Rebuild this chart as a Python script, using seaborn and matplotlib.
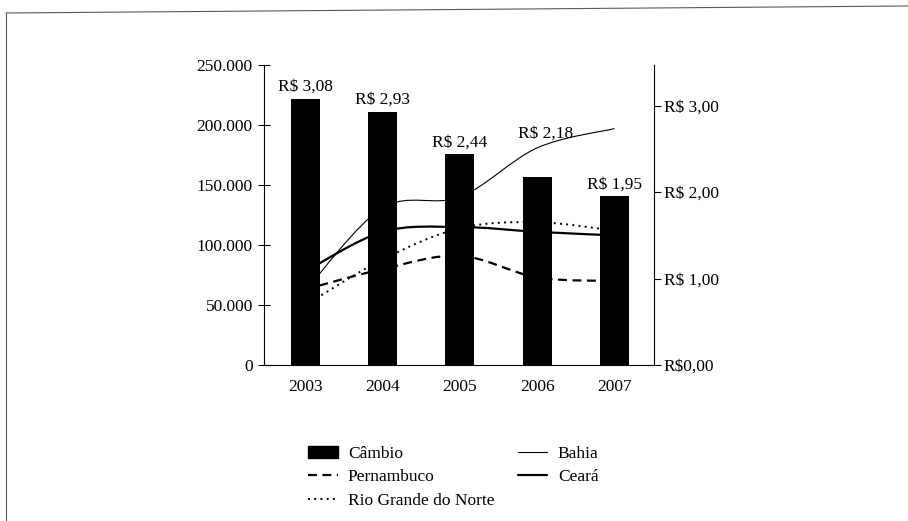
import numpy as np
import matplotlib
matplotlib.use("Agg")
import matplotlib.pyplot as plt
from matplotlib.path import Path
from matplotlib.patches import PathPatch, Patch
from matplotlib.lines import Line2D
from matplotlib.ticker import FuncFormatter, FixedLocator
import seaborn as sns

# Dados
anos = ["2003", "2004", "2005", "2006", "2007"]
cambio = [3.08, 2.93, 2.44, 2.18, 1.95]          # R$ por US$
bahia = [62000, 131000, 140000, 181000, 197000]
ceara = [78000, 111000, 115000, 111000, 108000]
pernambuco = [63000, 80000, 91000, 73000, 70000]
rio_grande_norte = [50000, 88000, 114000, 119000, 112000]

sns.set_style("white")
plt.rcParams["font.family"] = ["Liberation Serif", "DejaVu Serif"]
plt.rcParams["font.size"] = 12.5
plt.rcParams["axes.edgecolor"] = "black"
plt.rcParams["xtick.color"] = "black"
plt.rcParams["ytick.color"] = "black"
plt.rcParams["text.color"] = "black"

FS = 12.5

fig = plt.figure(figsize=(9.08, 5.21), dpi=100)
ax = fig.add_axes([0.2907, 0.2994, 0.4295, 0.5758])
ax2 = ax.twinx()


def suave(xs, ys):
    """Curva suavizada (Catmull-Rom em Bézier cúbica) pelos pontos."""
    pts = np.column_stack([xs, ys]).astype(float)
    n = len(pts)
    verts = [pts[0]]
    codes = [Path.MOVETO]
    for i in range(n - 1):
        p0 = pts[i - 1] if i > 0 else pts[i]
        p1, p2 = pts[i], pts[i + 1]
        p3 = pts[i + 2] if i + 2 < n else pts[i + 1]
        verts += [p1 + (p2 - p0) / 6, p2 - (p3 - p1) / 6, p2]
        codes += [Path.CURVE4] * 3
    return Path(verts, codes)


x = np.arange(len(anos))
estilos = {
    "Bahia": (bahia, dict(lw=0.8, linestyle="-")),
    "Ceará": (ceara, dict(lw=1.6, linestyle="-")),
    "Pernambuco": (pernambuco, dict(lw=1.6, linestyle=(0, (4, 2.5)))),
    "Rio Grande do Norte": (rio_grande_norte, dict(lw=1.4, linestyle=(0, (1, 2.2)))),
}
for nome, (serie, st) in estilos.items():
    ax.add_patch(PathPatch(suave(x, serie), fill=False, edgecolor="black",
                           capstyle="butt", **st))

# Barras do câmbio (eixo direito, desenhadas sobre as linhas)
sns.barplot(x=anos, y=cambio, ax=ax2, color="black", saturation=1,
            width=0.375, linewidth=0)

for i, v in enumerate(cambio):
    dx, dy = (6, 28) if anos[i] == "2006" else (0, 5.5)
    ax2.annotate(f"R\\$ {v:.2f}".replace(".", ","), (i, v),
                 xytext=(dx, dy), textcoords="offset points",
                 ha="center", va="baseline", fontsize=FS)

# Eixo x
ax.set_xlim(-0.537, 4.511)
ax2.set_xlim(-0.537, 4.511)
ax.set_xticks(x)
ax.set_xticklabels(anos)
ax.xaxis.set_minor_locator(FixedLocator([0.5, 1.5, 2.5, 3.5]))
ax.tick_params(axis="x", which="major", length=0, pad=10, labelsize=FS)
ax.tick_params(axis="x", which="minor", length=8, direction="inout", width=0.8)

# Eixo esquerdo
ax.set_ylim(0, 250000)
ax.set_yticks(np.arange(0, 250001, 50000))
ax.yaxis.set_major_formatter(FuncFormatter(lambda v, p: f"{int(v):,}".replace(",", ".")))
ax.tick_params(axis="y", length=8, direction="inout", width=0.8, labelsize=FS, pad=4)

# Eixo direito
ax2.set_ylim(0, 3.47)
ax2.set_yticks([0, 1, 2, 3])
ax2.set_yticklabels(["R\\$0,00", "R\\$ 1,00", "R\\$ 2,00", "R\\$ 3,00"])
ax2.tick_params(axis="y", length=5, direction="out", width=0.8, labelsize=FS, pad=2)
ax2.set_xlabel("")
ax2.set_ylabel("")
ax.set_xlabel("")
ax.set_ylabel("")

for s in ["top", "right"]:
    ax.spines[s].set_visible(False)
for s in ["top", "left", "bottom"]:
    ax2.spines[s].set_visible(False)
for sp in [ax.spines["left"], ax.spines["bottom"], ax2.spines["right"]]:
    sp.set_linewidth(0.8)
    sp.set_color("black")
ax.grid(False)
ax2.grid(False)

# Legenda
handles = [
    Patch(facecolor="black", edgecolor="black"),
    Line2D([], [], color="black", lw=1.6, linestyle=(0, (4, 2.5))),
    Line2D([], [], color="black", lw=1.4, linestyle=(0, (1, 2.2))),
    Line2D([], [], color="black", lw=0.8),
    Line2D([], [], color="black", lw=1.6),
]
labels = ["Câmbio", "Pernambuco", "Rio Grande do Norte", "Bahia", "Ceará"]
fig.legend(handles, labels, ncol=2, loc="upper left",
           bbox_to_anchor=(308 / 908, 1 - 446 / 521), frameon=False,
           borderpad=0, borderaxespad=0, handlelength=1.7, handleheight=0.65,
           handletextpad=0.6, columnspacing=1.35, labelspacing=0.42, fontsize=FS)

# Moldura
fig.add_artist(Line2D([6 / 908, 1], [1 - 13 / 521, 1 - 6 / 521],
                      transform=fig.transFigure, color="0.35", lw=0.8))
fig.add_artist(Line2D([6 / 908, 6 / 908], [1 - 13 / 521, 0],
                      transform=fig.transFigure, color="0.35", lw=0.8))

fig.savefig("out.png", dpi=100, facecolor="white")
